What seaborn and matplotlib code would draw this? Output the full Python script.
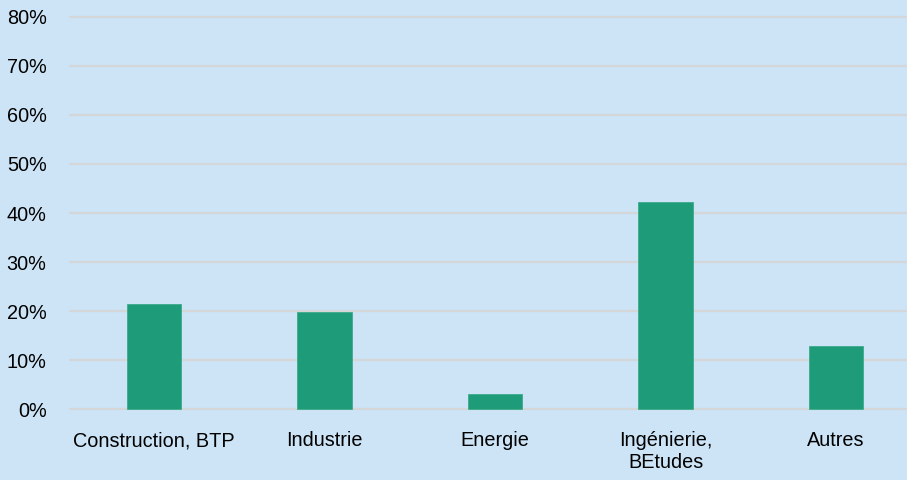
import numpy as np
import pandas as pd
import matplotlib
matplotlib.use('Agg')
import matplotlib.pyplot as plt
from matplotlib import font_manager
from matplotlib.ticker import PercentFormatter
import seaborn as sns

# -------------------------------------------------------
# Data
# -------------------------------------------------------
categories = ["Construction, BTP", "Industrie", "Energie",
              "Ingénierie,\nBEtudes", "Autres"]
shares = [21.4, 19.9, 3.2, 42.2, 12.9]   # percent
y_ticks = [0, 10, 20, 30, 40, 50, 60, 70, 80]

BG = "#CCE4F6"
BAR = "#1E9B79"
GRID = "#D4D6D8"

df = pd.DataFrame({"secteur": categories, "part": shares})

sns.set_theme(style="white")
installed = {f.name for f in font_manager.fontManager.ttflist}
if "Liberation Sans Narrow" in installed:
    plt.rcParams['font.family'] = ['Liberation Sans Narrow', 'DejaVu Sans']
    fsize = 17
else:
    plt.rcParams['font.family'] = ['Liberation Sans', 'DejaVu Sans']
    fsize = 14.3

fig = plt.figure(figsize=(9.07, 4.8), dpi=100)
fig.patch.set_facecolor(BG)
ax = fig.add_axes([68.75 / 907, 0.1367, 838.9 / 907, 0.8388])
ax.set_facecolor(BG)

sns.barplot(data=df, x="secteur", y="part", color=BAR, width=0.32,
            saturation=1, edgecolor="#3DAA8A", linewidth=0.6, ax=ax)

ax.set_xlim(-0.5, 4.42)
ax.set_ylim(-1, 81)
ax.set_yticks(y_ticks)
ax.yaxis.set_major_formatter(PercentFormatter(decimals=0))
ax.grid(axis="y", color=GRID, linewidth=1.6)
ax.set_axisbelow(True)
for s in ax.spines.values():
    s.set_visible(False)
ax.tick_params(axis="both", length=0, labelsize=fsize, colors="black")
ax.tick_params(axis="y", pad=16)
ax.tick_params(axis="x", pad=12)
ax.set_xlabel("")
ax.set_ylabel("")

fig.savefig("out.png", dpi=100, facecolor=BG)
